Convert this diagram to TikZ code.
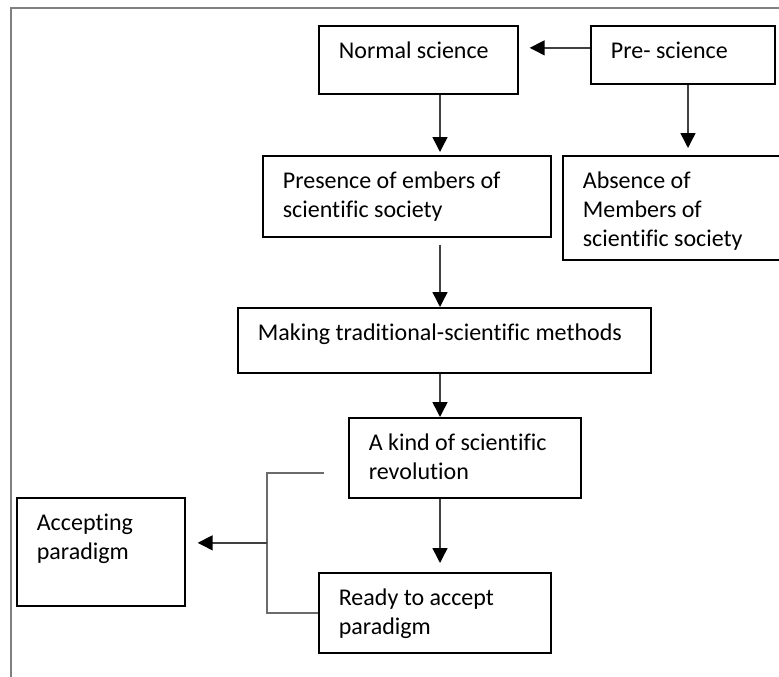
\documentclass[tikz,border=0pt]{standalone}
\usepackage{fontspec}
\setmainfont[Ligatures=NoCommon]{Carlito}
\usetikzlibrary{arrows.meta}
\newcommand{\bxt}[3]{\begin{minipage}[t][#2][t]{#1}\raggedright\leftskip=20pt\fontsize{24}{29}\selectfont\rule{0pt}{33pt}#3\end{minipage}}
\tikzset{
  stepbox/.style={draw=black, line width=1.7pt, inner sep=0pt, anchor=north west},
  arr/.style={draw=black!75, line width=1.5pt, -{Triangle[length=15pt,width=15pt]}, arrows={[color=black]}},
  bracket/.style={draw=black!58, line width=2pt},
  frameline/.style={draw=black!50, line width=2pt}
}
\begin{document}
\begin{tikzpicture}[x=1pt,y=-1pt]
\path[use as bounding box, clip] (0,0) rectangle (779,677);
\draw[frameline] (11,680) -- (11,8) -- (790,8);
\coordinate (axis) at (440,0);
\coordinate (axistwo) at (688,0);
\coordinate (bx) at (267,0);
\coordinate (bt) at (324,473);
\node[stepbox] (normal) at (318,25) {\bxt{199pt}{68pt}{Normal science}};
\node[stepbox] (pre) at (590,25) {\bxt{184pt}{58pt}{Pre- science}};
\node[stepbox] (presence) at (262,155) {\bxt{288pt}{81pt}{Presence of embers of\\ scientific society}};
\node[stepbox] (absence) at (562,155) {\bxt{230pt}{104pt}{Absence of\\ Members of\\ scientific society}};
\node[stepbox] (making) at (237,307) {\bxt{413pt}{65pt}{Making traditional-scientific methods}};
\node[stepbox] (revol) at (348,417) {\bxt{232pt}{80pt}{A kind of scientific\\ revolution}};
\node[stepbox] (accept) at (16,497) {\bxt{168pt}{108pt}{Accepting\\ paradigm}};
\node[stepbox] (ready) at (318,572) {\bxt{232pt}{80pt}{Ready to accept\\ paradigm}};
\draw[arr, shorten >=11pt] ([yshift=7pt]pre.west) -- ([yshift=7pt]pre.west -| normal.east);
\draw[arr, shorten >=3pt] (normal.south -| axis) -- (presence.north -| axis);
\draw[arr, shorten >=7pt] (pre.south -| axistwo) -- (absence.north -| axistwo);
\draw[arr, shorten <=7pt] (presence.south -| axis) -- (making.north -| axis);
\draw[arr] (making.south -| axis) -- (revol.north -| axis);
\draw[arr, shorten >=9pt] (revol.south -| axis) -- (ready.north -| axis);
\draw[bracket] (bt) -| (bx |- ready.west) -- (ready.west);
\draw[arr, shorten >=12pt] ([yshift=9pt]accept.east -| bx) -- ([yshift=9pt]accept.east);
\end{tikzpicture}
\end{document}
